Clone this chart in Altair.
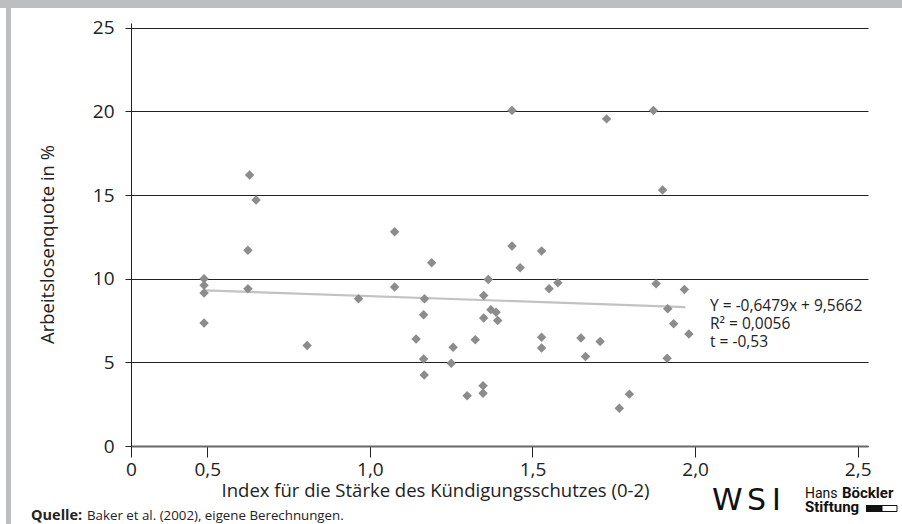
import altair as alt
import pandas as pd

# ---- data ----
x_index = [0.49, 0.49, 0.49, 0.49, 0.63, 0.65, 0.625, 0.625, 0.965, 0.807,
           1.437, 1.728, 1.076, 1.19, 1.076, 1.168, 1.165, 1.142, 1.165, 1.167,
           1.256, 1.25, 1.324, 1.299, 1.348, 1.348, 1.35, 1.35, 1.364, 1.372,
           1.388, 1.393, 1.437, 1.462, 1.528, 1.551, 1.578, 1.528, 1.528, 1.649,
           1.663, 1.708, 1.767, 1.798,
           1.872, 1.90, 1.88, 1.967, 1.916, 1.934, 1.981, 1.914]
y_rate = [10.0, 9.6, 9.15, 7.35, 16.2, 14.7, 11.7, 9.4, 8.8, 6.0,
          20.05, 19.55, 12.8, 10.95, 9.5, 8.8, 7.85, 6.4, 5.2, 4.25,
          5.9, 4.95, 6.35, 3.0, 3.6, 3.15, 7.65, 9.0, 9.95, 8.15,
          8.0, 7.5, 11.95, 10.65, 11.65, 9.4, 9.75, 6.5, 5.85, 6.45,
          5.35, 6.25, 2.25, 3.1,
          20.05, 15.3, 9.7, 9.35, 8.2, 7.3, 6.7, 5.25]
trend_x = [0.49, 1.97]
trend_y = [9.3, 8.3]
eq_lines = ["Y = -0,6479x + 9,5662", "R² = 0,0056", "t = -0,53"]
eq_x = [2.046, 2.046, 2.046]
eq_y = [8.39, 7.29, 6.22]
x_ticks = [0.2654, 0.5, 1.0, 1.5, 2.0, 2.5]
y_ticks = [0, 5, 10, 15, 20, 25]

FONT = "Open Sans"
LOGO_FONT = "Roboto"

xscale = alt.Scale(domain=[0.2654, 2.5317], nice=False, zero=False)
yscale = alt.Scale(domain=[0, 25.28], nice=False, zero=False)

pts = pd.DataFrame({"x": x_index, "y": y_rate})
trend = pd.DataFrame({"x": trend_x, "y": trend_y})
eq = pd.DataFrame({"x": eq_x, "y": eq_y, "t": eq_lines})

xaxis = alt.Axis(
    values=x_ticks,
    labelExpr="datum.value < 0.3 ? '0' : replace(format(datum.value, '.1f'), '.', ',')",
    title="Index für die Stärke des Kündigungsschutzes (0-2)",
    grid=False, tickSize=11, tickColor="#222", labelPadding=3,
    labelFlush=False, labelFontSize=19, labelColor="#222", labelFont=FONT,
    domainColor="#666", domainWidth=2,
    titleFont=FONT, titleFontSize=18.5, titleFontWeight="normal", titleColor="#222",
    titleX=304, titleY=50, titleBaseline="alphabetic", titleAlign="center",
)
yaxis = alt.Axis(
    values=y_ticks, format="d",
    title="Arbeitslosenquote in  %",
    grid=True, gridColor="#222", gridWidth=1,
    tickSize=6, tickColor="#222", labelPadding=11,
    labelFontSize=19, labelColor="#222", labelFont=FONT,
    domainColor="#222", domainWidth=1,
    titleFont=FONT, titleFontSize=18.5, titleFontWeight="normal", titleColor="#222",
    titleX=-78, titleY=221, titleAngle=270, titleBaseline="alphabetic", titleAlign="center",
)

points = alt.Chart(pts).mark_point(
    shape="diamond", filled=True, size=90, color="#8c8c8c", opacity=1
).encode(
    x=alt.X("x:Q", scale=xscale, axis=xaxis),
    y=alt.Y("y:Q", scale=yscale, axis=yaxis),
)

line = alt.Chart(trend).mark_line(color="#c2c2c2", strokeWidth=2.2).encode(
    x="x:Q", y="y:Q"
)

eqtext = alt.Chart(eq).mark_text(
    align="left", baseline="middle", font=FONT, fontSize=15.5, color="#222"
).encode(x="x:Q", y="y:Q", text="t:N")

one = pd.DataFrame({"k": [0]})

# decorative frame bands
top_band = alt.Chart(one).mark_rect(color="#bcbec0").encode(
    x=alt.value(-131), x2=alt.value(771), y=alt.value(-23), y2=alt.value(-15)
)
left_band = alt.Chart(one).mark_rect(color="#bcbec0").encode(
    x=alt.value(-125), x2=alt.value(-120), y=alt.value(-23), y2=alt.value(501)
)

src_bold = alt.Chart(one).mark_text(
    text="Quelle:", align="left", baseline="alphabetic", font=FONT,
    fontSize=14.5, fontWeight="bold", color="#222"
).encode(x=alt.value(-100), y=alt.value(497))
src = alt.Chart(one).mark_text(
    text="Baker et al. (2002), eigene Berechnungen.", align="left",
    baseline="alphabetic", font=FONT, fontSize=13.3, color="#222"
).encode(x=alt.value(-44), y=alt.value(497))

logo_letters = ["W", "S", "I"]
logo_x = [581, 616, 641]
logo_size = [31, 30, 30]
wsi_layers = [
    alt.Chart(one).mark_text(
        text=ch, align="left", baseline="alphabetic", font="DejaVu Sans",
        fontSize=fs, fontWeight="normal", color="#111"
    ).encode(x=alt.value(px), y=alt.value(487))
    for ch, px, fs in zip(logo_letters, logo_x, logo_size)
]
hans = alt.Chart(one).mark_text(
    text="Hans", align="left", baseline="alphabetic", font=LOGO_FONT,
    fontSize=14, color="#111"
).encode(x=alt.value(674), y=alt.value(475))
boeckler = alt.Chart(one).mark_text(
    text="Böckler", align="left", baseline="alphabetic", font=LOGO_FONT,
    fontSize=15, fontWeight="bold", color="#111"
).encode(x=alt.value(711), y=alt.value(475))
stiftung = alt.Chart(one).mark_text(
    text="Stiftung", align="left", baseline="alphabetic", font=LOGO_FONT,
    fontSize=15, fontWeight="bold", color="#111"
).encode(x=alt.value(674), y=alt.value(488.5))
box_fill = alt.Chart(one).mark_rect(color="#111").encode(
    x=alt.value(735), x2=alt.value(751), y=alt.value(482), y2=alt.value(489)
)
box_open = alt.Chart(one).mark_rect(fill="white", stroke="#111", strokeWidth=1).encode(
    x=alt.value(751), x2=alt.value(766), y=alt.value(482.5), y2=alt.value(488.5)
)

chart = alt.layer(
    top_band, left_band, line, points, eqtext,
    src_bold, src, *wsi_layers, hans, boeckler, stiftung, box_fill, box_open
).properties(
    width=737, height=423,
    autosize=alt.AutoSizeParams(type="none"),
    padding={"left": 131, "top": 23, "right": 34, "bottom": 78},
    background="white",
).configure_view(stroke=None)

chart.save("out.html", embed_options={"renderer": "svg", "actions": False})
